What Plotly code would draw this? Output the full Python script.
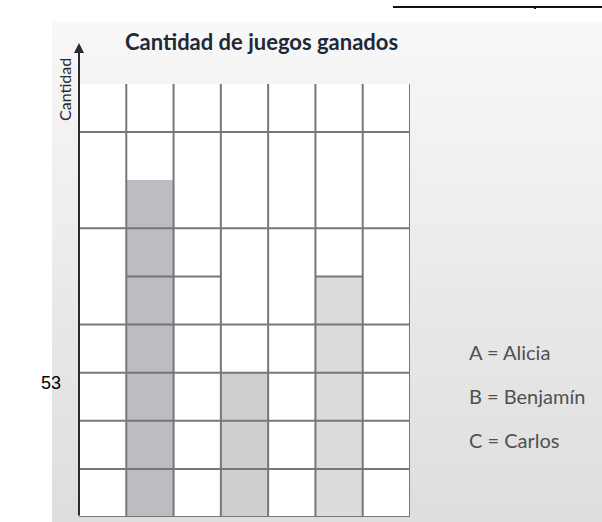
import plotly.graph_objects as go

# datos del grafico
jugadores = ["A", "B", "C"]
nombres = ["Alicia", "Benjamín", "Carlos"]
juegos = [7, 3, 5]
posiciones = [1.5, 3.5, 5.5]
colores = ["#bdbdc1", "#cfcfd1", "#dcdcde"]

# cuadricula (en unidades del eje)
cols = list(range(1, 8))
filas_completas = [0, 1, 2, 3, 4, 6, 8]
filas_parciales = [(5, 1, 3), (5, 5, 6)]

W, H = 602, 522


def py(px):
    # pixel desde arriba -> coordenada paper
    return 1 - px / H


fig = go.Figure()

fig.add_trace(go.Bar(x=posiciones, y=juegos, width=1,
                     marker=dict(color=colores, line=dict(width=0)),
                     hoverinfo="skip", showlegend=False))

gx, gy = [], []
for c in cols:
    gx += [c, c, None]
    gy += [0, 9, None]
for f in filas_completas:
    gx += [0, 7, None]
    gy += [f, f, None]
for f, a, b in filas_parciales:
    gx += [a, b, None]
    gy += [f, f, None]
fig.add_trace(go.Scatter(x=gx, y=gy, mode="lines",
                         line=dict(color="#777777", width=2),
                         hoverinfo="skip", showlegend=False))

# fondo gris con degradado
shapes = []
n = 25
for i in range(n):
    v = int(248 - (248 - 222) * i / (n - 1))
    y0 = 22 + i * 500 / n
    y1 = 22 + (i + 1) * 500 / n
    shapes.append(dict(type="rect", xref="paper", yref="paper",
                       x0=52 / W, x1=1, y0=py(y1), y1=py(y0),
                       fillcolor=f"rgb({v},{v},{v})", line=dict(width=0),
                       layer="below"))
# area blanca del grafico
shapes.append(dict(type="rect", xref="x domain", yref="y domain",
                   x0=0, x1=1, y0=0, y1=1, fillcolor="white",
                   line=dict(width=0), layer="below"))
# linea superior
shapes.append(dict(type="line", xref="paper", yref="paper",
                   x0=393 / W, x1=1, y0=py(7), y1=py(7),
                   line=dict(color="#111", width=2)))
shapes.append(dict(type="line", xref="paper", yref="paper",
                   x0=535 / W, x1=535 / W, y0=py(6), y1=py(9),
                   line=dict(color="#111", width=2)))

anns = []
# eje y con flecha
anns.append(dict(x=0, xref="x", y=py(43), yref="paper", text="",
                 showarrow=True, ax=0, ay=474, arrowhead=2, arrowsize=1,
                 arrowwidth=2, arrowcolor="#2b2b2b", standoff=0))
anns.append(dict(x=261 / W, y=py(41), xref="paper", yref="paper",
                 xanchor="center", yanchor="middle",
                 text="<b>Cantidad de juegos ganados</b>", showarrow=False,
                 font=dict(family="Lato", size=22, color="#1f2838")))
anns.append(dict(x=64 / W, y=py(90), xref="paper", yref="paper",
                 xanchor="center", yanchor="middle",
                 text="Cantidad", textangle=-90, showarrow=False,
                 font=dict(family="Lato", size=16, color="#2a2a2a")))
anns.append(dict(x=51 / W, y=py(383), xref="paper", yref="paper",
                 xanchor="center", yanchor="middle",
                 text="53", showarrow=False,
                 font=dict(family="Liberation Sans", size=18, color="#000")))
for i, (j, nom) in enumerate(zip(jugadores, nombres)):
    anns.append(dict(x=467 / W, y=py(352 + 44 * i), xref="paper", yref="paper",
                     text=f"{j} = {nom}", showarrow=False,
                     xanchor="left", yanchor="middle",
                     font=dict(family="Lato", size=20, color="#505050")))

fig.update_layout(
    width=W, height=H,
    margin=dict(l=0, r=0, t=0, b=0),
    paper_bgcolor="white", plot_bgcolor="rgba(0,0,0,0)",
    xaxis=dict(domain=[79 / W, 410 / W], range=[0, 7], showgrid=False,
               zeroline=False, showticklabels=False, fixedrange=True),
    yaxis=dict(domain=[py(517), py(84)], range=[0, 9], showgrid=False,
               zeroline=False, showticklabels=False, fixedrange=True),
    shapes=shapes, annotations=anns, bargap=0,
)

fig.write_html("out.html", config={"displayModeBar": False},
               post_script="document.body.style.margin='0';")
